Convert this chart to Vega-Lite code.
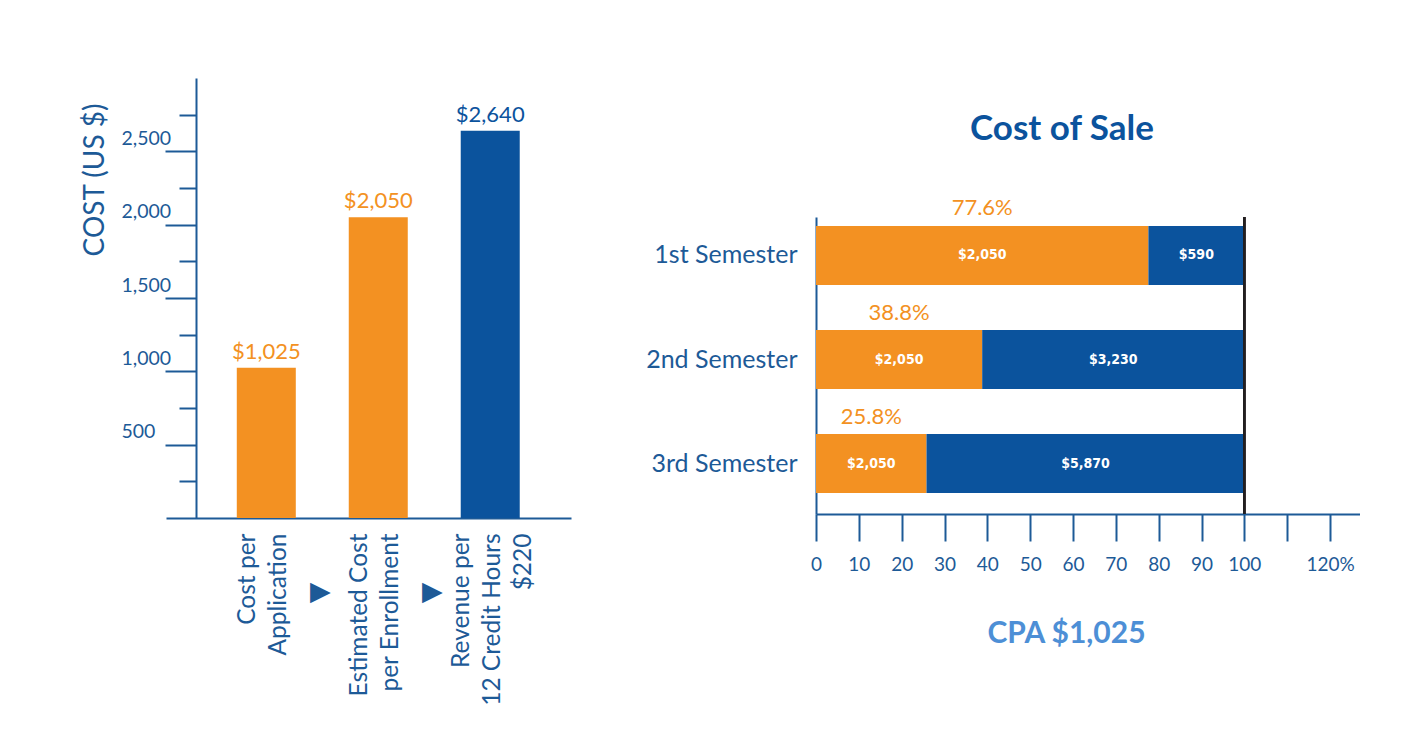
{
  "$schema": "https://vega.github.io/schema/vega-lite/v6.json",
  "padding": {"left": 80, "top": 78, "right": 0, "bottom": 0},
  "background": "white",
  "spacing": 74,
  "config": {
    "view": {"stroke": null},
    "font": "Lato",
    "axis": {"labelFont": "Lato", "titleFont": "Lato", "grid": false}
  },
  "hconcat": [
    {
      "width": 405,
      "height": 440,
      "data": {
        "values": [
          {"cat": "Cost per|Application", "value": 1025, "kind": "cost", "label": "$1,025"},
          {"cat": "Estimated Cost|per Enrollment", "value": 2050, "kind": "cost", "label": "$2,050"},
          {"cat": "Revenue per|12 Credit Hours|$220", "value": 2640, "kind": "revenue", "label": "$2,640"}
        ]
      },
      "layer": [
        {
          "mark": {"type": "bar"},
          "encoding": {
            "x": {
              "field": "cat", "type": "nominal", "sort": null,
              "scale": {"paddingInner": 0.473, "paddingOuter": 0.545, "align": 0.58},
              "axis": {
                "title": null, "ticks": false, "labelAngle": -90, "labelAlign": "right",
                "labelBaseline": "middle", "labelPadding": 15, "labelFontSize": 24.5,
                "labelLineHeight": 31, "labelColor": "#1D5A97", "labelLimit": 400,
                "labelOffset": {"condition": {"test": "indexof(datum.value, '$220') >= 0", "value": -28}, "value": -18},
                "labelExpr": "split(datum.value, '|')",
                "domainColor": "#1D5A97", "domainWidth": 2
              }
            },
            "y": {
              "field": "value", "type": "quantitative",
              "scale": {"domain": [0, 3000], "nice": false},
              "axis": {
                "title": "COST (US $)",
                "values": [250, 500, 750, 1000, 1250, 1500, 1750, 2000, 2250, 2500, 2750],
                "offset": -30,
                "domainColor": "#1D5A97", "domainWidth": 2,
                "tickColor": "#1D5A97", "tickWidth": 2,
                "tickSize": {"condition": {"test": "datum.value % 500 === 0", "value": 31}, "value": 17},
                "labelExpr": "datum.value % 500 === 0 ? format(datum.value, ',') : ''",
                "labelAlign": "left", "labelBaseline": "bottom", "labelPadding": 44, "labelOffset": -3,
                "labelFontSize": 19.5, "labelColor": "#1D5A97",
                "titleFontSize": 28, "titleFontWeight": "normal", "titleColor": "#1D5A97",
                "titleAnchor": "end", "titleX": -87, "titleY": 25, "titleAlign": "right",
                "titleBaseline": "bottom", "titleAngle": -90
              }
            },
            "color": {
              "field": "kind", "type": "nominal",
              "scale": {"domain": ["cost", "revenue"], "range": ["#F39122", "#0B539D"]},
              "legend": null
            }
          }
        },
        {
          "mark": {"type": "text", "baseline": "bottom", "dy": -4, "fontSize": 22, "font": "Lato"},
          "encoding": {
            "x": {"field": "cat", "type": "nominal", "sort": null},
            "y": {"field": "value", "type": "quantitative"},
            "text": {"field": "label"},
            "color": {"field": "kind", "type": "nominal", "legend": null}
          }
        },
        {
          "data": {"values": [{"cat": "Cost per|Application"}, {"cat": "Estimated Cost|per Enrollment"}]},
          "mark": {"type": "text", "text": "▶", "dx": 54, "dy": 74, "fontSize": 27, "font": "DejaVu Sans", "color": "#1D5A97"},
          "encoding": {
            "x": {"field": "cat", "type": "nominal", "sort": null},
            "y": {"datum": 0, "type": "quantitative"}
          }
        }
      ]
    },
    {
      "spacing": 33,
      "vconcat": [
        {
          "width": 544,
          "height": 1,
          "data": {"values": []},
          "mark": {"type": "point"}
        },
        {
          "width": 544,
          "height": 297,
          "title": {
            "text": "Cost of Sale", "fontSize": 35, "fontWeight": "bold",
            "color": "#0B539D", "font": "Lato", "offset": 50, "dx": -26, "anchor": "middle"
          },
          "data": {
            "values": [
              {"semester": "1st Semester", "segment": "cost", "order": 1, "pct": 77.6, "label": "$2,050", "pctLabel": "77.6%"},
              {"semester": "1st Semester", "segment": "revenue", "order": 2, "pct": 22.4, "label": "$590"},
              {"semester": "2nd Semester", "segment": "cost", "order": 1, "pct": 38.8, "label": "$2,050", "pctLabel": "38.8%"},
              {"semester": "2nd Semester", "segment": "revenue", "order": 2, "pct": 61.2, "label": "$3,230"},
              {"semester": "3rd Semester", "segment": "cost", "order": 1, "pct": 25.8, "label": "$2,050", "pctLabel": "25.8%"},
              {"semester": "3rd Semester", "segment": "revenue", "order": 2, "pct": 74.2, "label": "$5,870"}
            ]
          },
          "layer": [
            {
              "mark": {"type": "bar"},
              "encoding": {
                "y": {
                  "field": "semester", "type": "nominal", "sort": null,
                  "scale": {"paddingInner": 0.433, "paddingOuter": 0.144, "align": 0.3},
                  "axis": {
                    "title": null, "ticks": false, "domainColor": "#1D5A97", "domainWidth": 2,
                    "labelFontSize": 25, "labelColor": "#1D5A97", "labelPadding": 19, "labelLimit": 300
                  }
                },
                "x": {
                  "field": "pct", "type": "quantitative", "stack": "zero",
                  "scale": {"domain": [0, 127], "nice": false},
                  "axis": {
                    "title": "CPA $1,025",
                    "values": [0, 5, 10, 15, 20, 25, 30, 35, 40, 45, 50, 55, 60, 65, 70, 75, 80, 85, 90, 95, 100, 105, 110, 115, 120],
                    "domainColor": "#1D5A97", "domainWidth": 2,
                    "tickColor": "#1D5A97", "tickWidth": 2,
                    "tickSize": {"condition": {"test": "datum.value % 10 === 0", "value": 27}, "value": 17},
                    "labelExpr": "datum.value === 110 ? '' : datum.value === 120 ? '120%' : format(datum.value, 'd')",
                    "labelFontSize": 19, "labelColor": "#1D5A97", "labelPadding": 14,
                    "labelFlush": false, "labelOverlap": false,
                    "titleFontSize": 30, "titleFontWeight": "bold", "titleColor": "#4D8FD6",
                    "titlePadding": 44, "titleX": 250
                  }
                },
                "color": {
                  "field": "segment", "type": "nominal",
                  "scale": {"domain": ["cost", "revenue"], "range": ["#F39122", "#0B539D"]},
                  "legend": null
                },
                "order": {"field": "order", "type": "quantitative"}
              }
            },
            {
              "mark": {"type": "rule", "color": "#231F20", "strokeWidth": 2},
              "encoding": {"x": {"datum": 100, "type": "quantitative"}}
            },
            {
              "transform": [
                {"stack": "pct", "groupby": ["semester"], "sort": [{"field": "order"}], "as": ["s0", "s1"]},
                {"fold": ["s0", "s1"], "as": ["k", "pos"]},
                {"aggregate": [{"op": "mean", "field": "pos", "as": "mid"}], "groupby": ["semester", "segment", "label"]}
              ],
              "mark": {"type": "text", "color": "white", "fontWeight": "bold", "fontSize": 14, "font": "Liberation Sans Narrow, DejaVu Sans Condensed, Liberation Sans, sans-serif"},
              "encoding": {
                "y": {"field": "semester", "type": "nominal", "sort": null},
                "x": {"field": "mid", "type": "quantitative"},
                "text": {"field": "label"}
              }
            },
            {
              "transform": [
                {"filter": "datum.segment === 'cost'"},
                {"stack": "pct", "groupby": ["semester"], "as": ["s0", "s1"]},
                {"fold": ["s0", "s1"], "as": ["k", "pos"]},
                {"aggregate": [{"op": "mean", "field": "pos", "as": "mid"}], "groupby": ["semester", "pctLabel"]}
              ],
              "mark": {"type": "text", "color": "#F39122", "fontSize": 22, "dy": -47, "font": "Lato"},
              "encoding": {
                "y": {"field": "semester", "type": "nominal", "sort": null},
                "x": {"field": "mid", "type": "quantitative"},
                "text": {"field": "pctLabel"}
              }
            }
          ]
        }
      ]
    }
  ]
}
